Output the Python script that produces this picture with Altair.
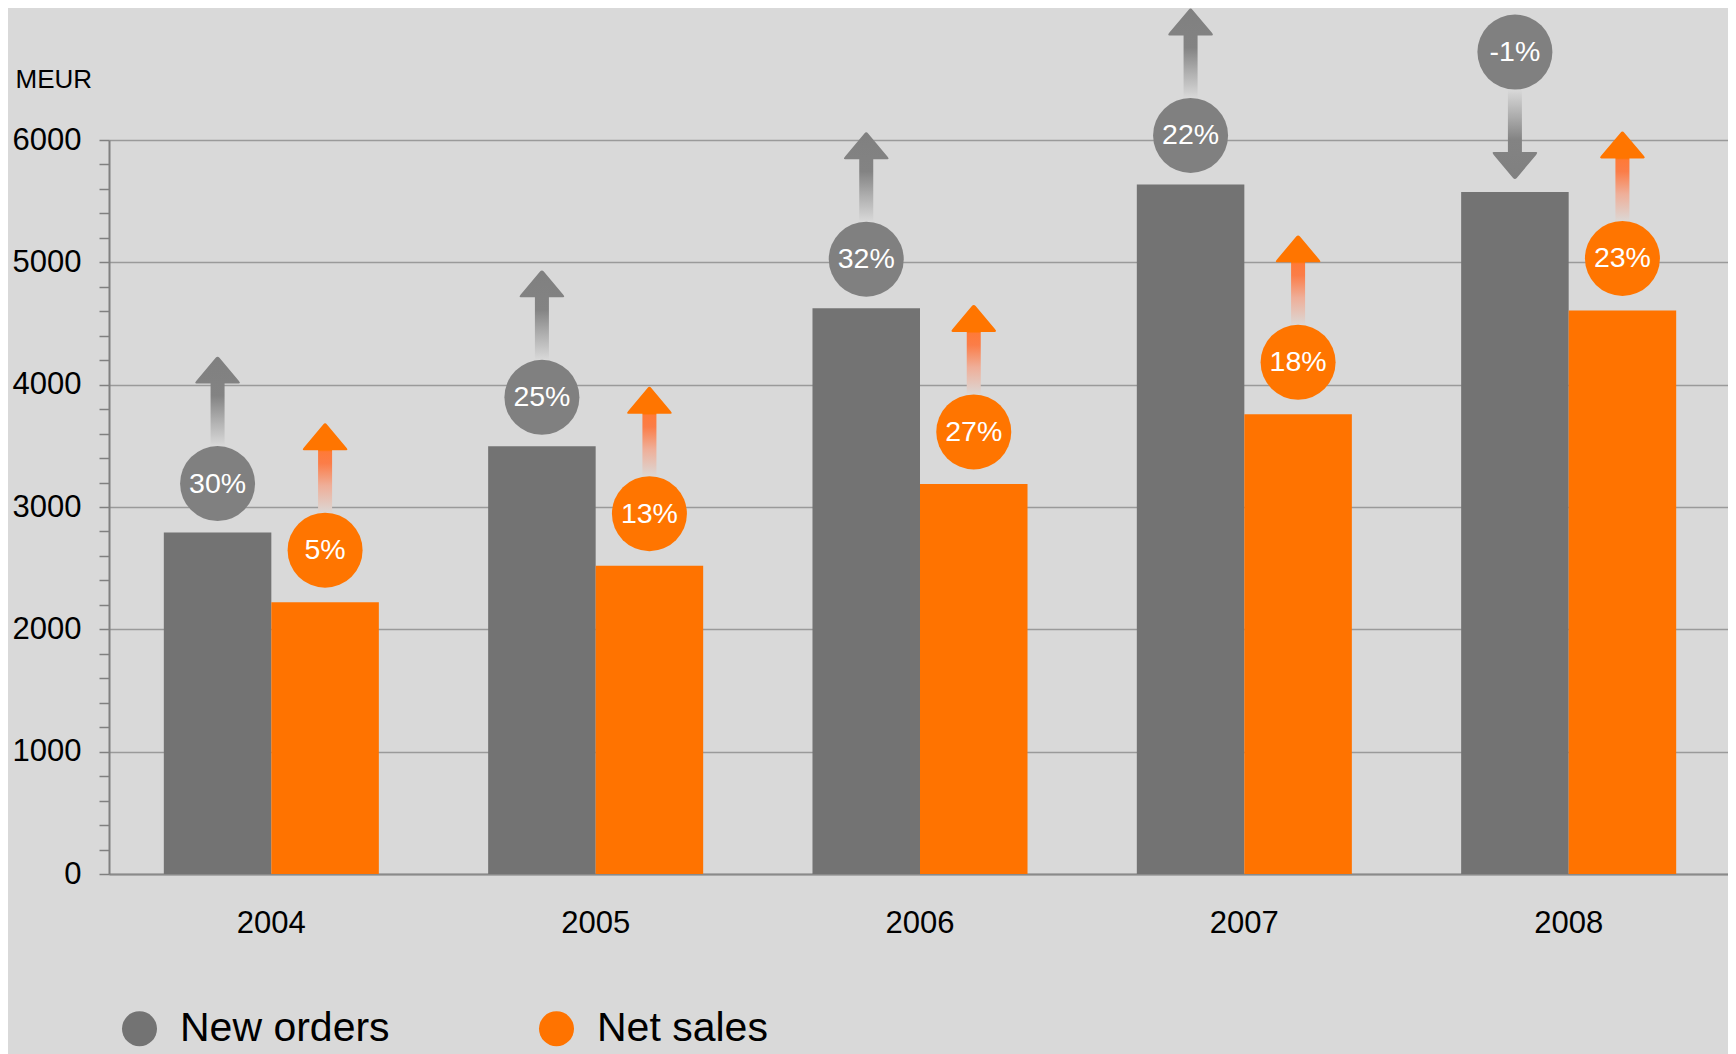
import altair as alt
import pandas as pd

# ---------------- data ----------------
years = ["2004", "2005", "2006", "2007", "2008"]
series_names = ["New orders", "Net sales"]
new_orders = [2791, 3496, 4625, 5637, 5574]
net_sales = [2222, 2520, 3189, 3758, 4607]
orders_growth = [30, 25, 32, 22, -1]
sales_growth = [5, 13, 27, 18, 23]
y_tick_values = list(range(0, 6001, 200))

rows = []
for i, yr in enumerate(years):
    for s, vals, gr in [("New orders", new_orders, orders_growth),
                        ("Net sales", net_sales, sales_growth)]:
        g = gr[i]
        rows.append({"year": yr, "series": s, "value": vals[i],
                     "label": f"{g}%", "dir": "up" if g >= 0 else "down"})
df = pd.DataFrame(rows)

# ---------------- style ----------------
FONT = "Liberation Sans"
BG = "#d9d9d9"
GRAY_BAR = "#737373"
ORANGE_BAR = "#ff7300"
GRAY_CIRCLE = "#808080"
ORANGE_CIRCLE = "#ff7500"


def arrow_path(sign):
    u = 23.5
    hw = 7 / u
    a = 38 / u
    b = 100 / u
    c = 128 / u

    def f(v):
        return f"{v * sign:.3f}"

    return (f"M {-hw:.3f} {f(-a)} L {-hw:.3f} {f(-b)} L -0.9 {f(-b)} "
            f"Q -1 {f(-b)} -0.9 {f(-b - 0.119)} L -0.08 {f(-c + 0.095)} "
            f"Q 0 {f(-c)} 0.08 {f(-c + 0.095)} L 0.9 {f(-b - 0.119)} "
            f"Q 1 {f(-b)} 0.9 {f(-b)} L {hw:.3f} {f(-b)} L {hw:.3f} {f(-a)} Z")


def gradient(stops, direction):
    if direction == "up":
        coords = {"x1": 0, "y1": 1, "x2": 0, "y2": 0}
    else:
        coords = {"x1": 0, "y1": 0, "x2": 0, "y2": 1}
    d = {"gradient": "linear"}
    d.update(coords)
    d["stops"] = [{"offset": o, "color": c} for o, c in stops]
    return d


GRAY_STOPS = [(0, "#d8d8d8"), (0.3, "#acacac"), (0.56, "#838383"), (1, "#808080")]
ORANGE_STOPS = [(0, "#dcd6d3"), (0.3, "#efae98"), (0.55, "#fb7d48"),
                (0.68, "#ff7a38"), (0.7, "#ff7500"), (1, "#ff7500")]

x_enc = alt.X("year:N", sort=years,
              scale=alt.Scale(paddingInner=0.337, paddingOuter=0.169),
              axis=alt.Axis(title=None, ticks=False, labelAngle=0, labelPadding=34,
                            labelFontSize=31, labelFont=FONT, labelColor="black",
                            domainColor="#8a8a8a", domainWidth=2, grid=False))
xo_enc = alt.XOffset("series:N", sort=series_names,
                     scale=alt.Scale(domain=series_names, paddingInner=0, paddingOuter=0))
y_enc = alt.Y("value:Q",
              scale=alt.Scale(domain=[0, 6000], nice=False, zero=True),
              axis=alt.Axis(values=y_tick_values, format="d",
                            labelExpr="datum.value % 1000 === 0 ? datum.label : ''",
                            labelOverlap=False, labelFlush=False,
                            labelFontSize=31, labelFont=FONT, labelColor="black",
                            labelPadding=18, tickSize=10, tickColor="#808080",
                            tickWidth=1.5, domainColor="#808080", domainWidth=2,
                            gridColor="#9a9a9a", gridWidth=1.3,
                            gridOpacity={"condition": {"test": "datum.value % 1000 === 0",
                                                       "value": 1}, "value": 0},
                            title="MEUR", titleAngle=0, titleAlign="left",
                            titleBaseline="middle", titleX=-94, titleY=-61,
                            titleFontSize=26, titleFont=FONT,
                            titleFontWeight="normal", titleColor="black"))

base = alt.Chart(df)

bars = base.mark_bar().encode(
    x=x_enc, xOffset=xo_enc, y=y_enc,
    color=alt.Color("series:N", sort=series_names,
                    scale=alt.Scale(domain=series_names, range=[GRAY_BAR, ORANGE_BAR]),
                    legend=alt.Legend(title=None, orient="none", legendX=10, legendY=868,
                                      direction="horizontal", symbolType="circle",
                                      symbolSize=1225, symbolStrokeWidth=0,
                                      symbolOpacity=1, labelFontSize=41,
                                      labelFont=FONT, labelColor="black",
                                      labelOffset=20, columnPadding=146,
                                      padding=0, labelLimit=0)),
)

layers = [bars]
specs = [
    ("New orders", "up", GRAY_CIRCLE, GRAY_STOPS, -49),
    ("Net sales", "up", ORANGE_CIRCLE, ORANGE_STOPS, -52),
    ("New orders", "down", GRAY_CIRCLE, GRAY_STOPS, -140),
    ("Net sales", "down", ORANGE_CIRCLE, ORANGE_STOPS, -140),
]
for s, d, ccol, stops, off in specs:
    sub = base.transform_filter(
        (alt.datum.series == s) & (alt.datum.dir == d))
    arrow = sub.mark_point(shape=arrow_path(1 if d == "up" else -1), size=2209,
                           filled=True, fill=gradient(stops, d), strokeWidth=0,
                           opacity=1, yOffset=off).encode(x=x_enc, xOffset=xo_enc, y=y_enc)
    circ = sub.mark_circle(size=5625, color=ccol, opacity=1, yOffset=off).encode(
        x=x_enc, xOffset=xo_enc, y=y_enc)
    txt = sub.mark_text(color="white", fontSize=28.5, font=FONT, align="center",
                        baseline="middle", yOffset=off).encode(
        x=x_enc, xOffset=xo_enc, y=y_enc, text="label:N")
    layers += [arrow, circ, txt]

chart = alt.layer(*layers).properties(
    width=1622, height=734,
    padding={"left": 101, "top": 132, "right": -3, "bottom": 180},
    autosize=alt.AutoSizeParams(type="none"),
    background=BG,
).configure_view(stroke=None)

chart.save("out.html", embed_options={"renderer": "svg", "actions": False})
